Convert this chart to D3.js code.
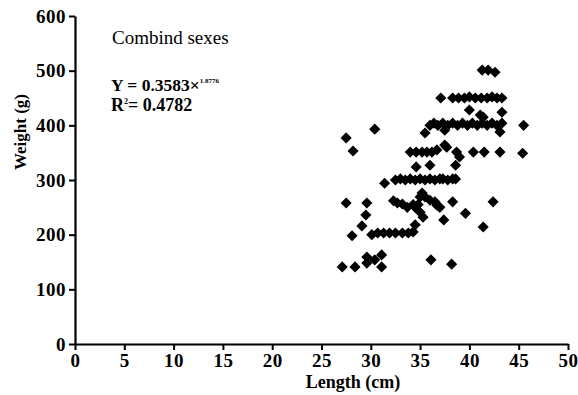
<!DOCTYPE html>
<html>
<head>
<meta charset="utf-8">
<script src="https://cdn.jsdelivr.net/npm/d3@7"></script>
<style>
  body { margin: 0; background: #fff; }
</style>
</head>
<body>
<div id="chart"></div>
<script>
// length (cm) and weight (g)
const lengths = [
  27.1, 28.4, 29.6, 29.6, 30.4, 31.1, 31.1, 36.1, 38.2,
  27.5, 28.1, 29.1, 29.5, 29.6, 27.5, 28.2, 30.4,
  30.1, 30.7, 31.3, 31.9, 32.5, 33.2, 33.8, 34.3, 34.5,
  32.3, 32.7, 33.2, 33.7, 34.3, 34.5, 34.8, 35.0, 35.3, 35.0, 35.5, 35.2, 36.0, 36.5, 36.7, 37.0, 37.4, 38.3, 39.6, 41.4, 42.4,
  31.4, 32.5, 33.0, 33.5, 34.0, 34.5, 35.0, 35.5, 36.0, 36.5, 37.0, 37.3, 37.8, 38.3, 38.6,
  34.6, 36.0, 38.6,
  34.0, 34.6, 35.2, 35.7, 36.2, 36.7, 37.5, 37.7, 38.7, 39.0, 40.4, 41.5, 43.1, 45.4,
  35.5, 36.0, 36.4, 36.8, 37.3, 37.5, 37.8, 38.3, 38.8, 39.3, 39.8, 40.3, 40.8, 41.3, 41.8, 42.3, 42.8, 43.1, 43.3, 45.5,
  40.0, 41.1, 41.4, 43.3,
  37.1, 38.3, 38.9, 39.5, 40.0, 40.6, 41.2, 41.8, 42.3, 42.8, 43.3,
  41.3, 41.9, 42.6
];
const weights = [
  141, 141, 159, 148, 154, 163, 141, 154, 146,
  258, 198, 216, 236, 258, 377, 353, 393,
  200, 203, 203, 203, 203, 203, 203, 205, 218,
  262, 258, 256, 250, 255, 250, 255, 241, 232, 269, 269, 276, 263, 260, 254, 250, 227, 260, 239, 214, 260,
  294, 300, 302, 300, 302, 300, 302, 300, 302, 300, 302, 302, 300, 302, 302,
  324, 327, 327,
  351, 351, 351, 351, 351, 355, 364, 360, 351, 342, 351, 351, 351, 349,
  386, 400, 404, 400, 404, 391, 400, 404, 400, 404, 400, 404, 400, 404, 400, 404, 400, 388, 404, 400,
  428, 419, 415, 424,
  450, 450, 450, 450, 452, 450, 450, 450, 452, 450, 450,
  501, 501, 497
];
const xTicks = [0, 5, 10, 15, 20, 25, 30, 35, 40, 45, 50];
const yTicks = [0, 100, 200, 300, 400, 500, 600];

const serif = "'Liberation Serif', 'Times New Roman', serif";
const width = 578, height = 395;
const margin = { top: 16, right: 10, bottom: 51, left: 75 };

const svg = d3.select("#chart")
  .append("svg")
  .attr("width", width)
  .attr("height", height)
  .attr("font-family", serif);

const x = d3.scaleLinear().domain([0, 50]).range([margin.left, 568]);
const y = d3.scaleLinear().domain([0, 600]).range([height - margin.bottom, margin.top]);

// axes
const xAxis = svg.append("g")
  .attr("transform", "translate(0," + y(0) + ")")
  .call(d3.axisBottom(x).tickValues(xTicks).tickSize(6).tickSizeOuter(0).tickPadding(4));
const yAxis = svg.append("g")
  .attr("transform", "translate(" + x(0) + ",0)")
  .call(d3.axisLeft(y).tickValues(yTicks).tickSize(6).tickSizeOuter(0).tickPadding(3));

[xAxis, yAxis].forEach(a => {
  a.attr("font-family", serif).attr("font-size", 19).attr("font-weight", "bold");
  a.select(".domain").attr("stroke", "#000").attr("stroke-width", 2.2);
  a.selectAll(".tick line").attr("stroke", "#000").attr("stroke-width", 2);
  a.selectAll(".tick text").attr("fill", "#000").attr("letter-spacing", 0.5);
});

// axis titles
svg.append("text")
  .attr("x", 353)
  .attr("y", 388)
  .attr("text-anchor", "middle")
  .attr("font-weight", "bold")
  .attr("font-size", 18)
  .text("Length (cm)");

svg.append("text")
  .attr("transform", "translate(26,132) rotate(-90)")
  .attr("text-anchor", "middle")
  .attr("font-weight", "bold")
  .attr("font-size", 17)
  .text("Weight (g)");

// annotations
svg.append("text")
  .attr("x", 112)
  .attr("y", 44)
  .attr("font-size", 19)
  .text("Combind sexes");

const eq = svg.append("text")
  .attr("x", 111)
  .attr("y", 91)
  .attr("font-weight", "bold")
  .attr("font-size", 17.5);
eq.append("tspan").text("Y = 0.3583×");
eq.append("tspan").attr("dy", -8).attr("font-size", 7).text("1.8776");

const r2 = svg.append("text")
  .attr("x", 111)
  .attr("y", 111)
  .attr("font-weight", "bold")
  .attr("font-size", 18);
r2.append("tspan").text("R");
r2.append("tspan").attr("dy", -7).attr("font-size", 8).text("2");
r2.append("tspan").attr("dy", 7).text("= 0.4782");

// points
const diamond = d3.symbol().type(d3.symbolSquare).size(62);
svg.append("g")
  .selectAll("path")
  .data(d3.range(lengths.length))
  .enter()
  .append("path")
  .attr("d", diamond)
  .attr("transform", i => "translate(" + x(lengths[i]) + "," + y(weights[i]) + ") rotate(45)")
  .attr("fill", "#000");
</script>
</body>
</html>
